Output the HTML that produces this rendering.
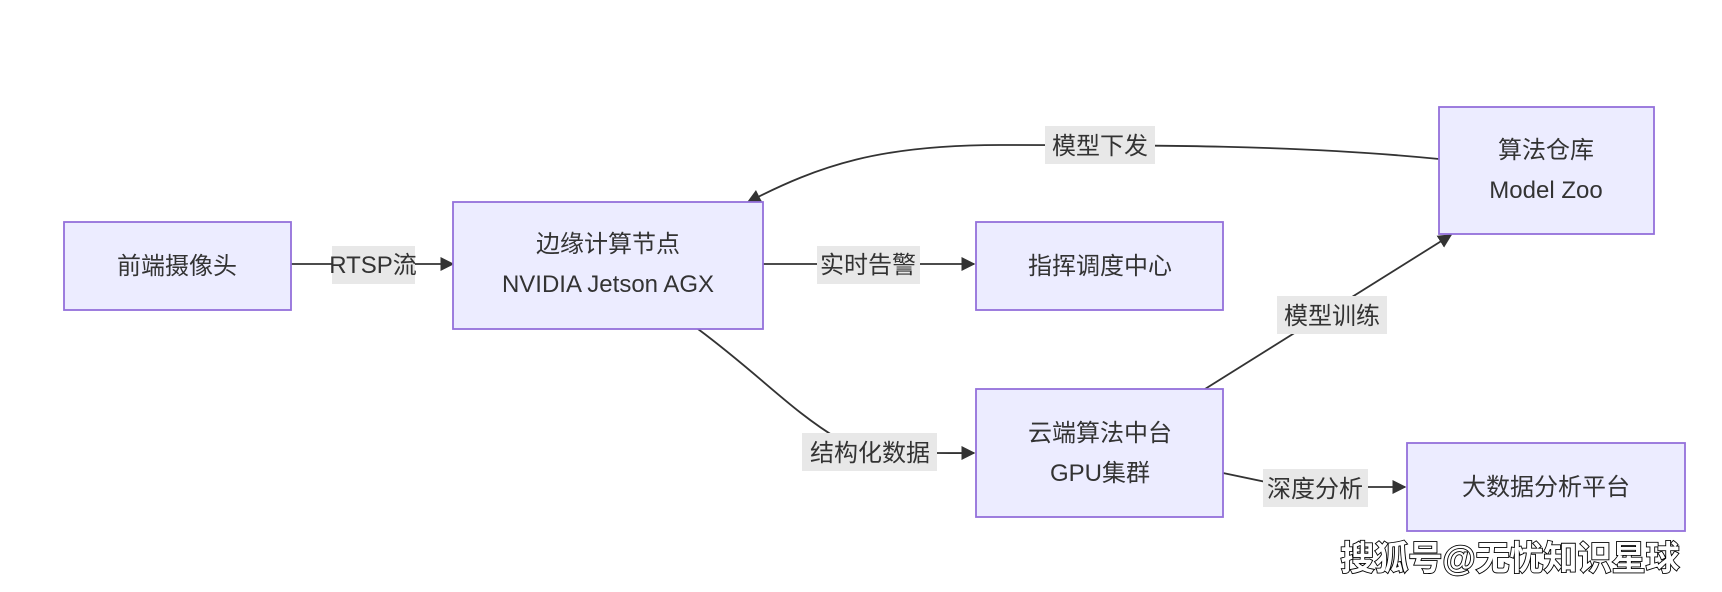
<!DOCTYPE html>
<html><head><meta charset="utf-8"><style>
html,body{margin:0;padding:0;background:#fff;}
svg{display:block;}
text{font-family:"Liberation Sans","Noto Sans CJK SC",sans-serif;fill:#333;}
</style></head><body>
<svg width="1722" height="592" viewBox="0 0 1722 592" xmlns="http://www.w3.org/2000/svg">
<defs>
<marker id="a" viewBox="0 0 10 10" refX="9" refY="5" markerWidth="14" markerHeight="14" markerUnits="userSpaceOnUse" orient="auto">
<path d="M0,0 L10,5 L0,10 z" fill="#333"/></marker>
</defs>
<g stroke="#333" stroke-width="1.8" fill="none" marker-end="url(#a)">
<path d="M291,264 L453,264"/>
<path d="M763,264 L974,264"/>
<path d="M1439,159 C1300,145 1150,145 1000,145 C880,145 820,165 748,202"/>
<path d="M698,329 C760,375 790,410 840,440 C870,455 930,453 974,453"/>
<path d="M1205,389 L1451,235"/>
<path d="M1223,473 L1290,487 L1405,487"/>
</g>
<g fill="#e8e8e8">
<rect x="332" y="246" width="83" height="38"/>
<rect x="817" y="246" width="103" height="38"/>
<rect x="1045" y="126" width="110" height="38"/>
<rect x="802" y="433" width="135" height="38"/>
<rect x="1277" y="296" width="110" height="38"/>
<rect x="1263" y="469" width="105" height="38"/>
</g>
<g font-size="24" text-anchor="middle">
<text x="373" y="273">RTSP流</text>
<text x="868" y="273">实时告警</text>
<text x="1100" y="154">模型下发</text>
<text x="870" y="461">结构化数据</text>
<text x="1332" y="324">模型训练</text>
<text x="1315" y="497">深度分析</text>
</g>
<g fill="#ececff" stroke="#9370db" stroke-width="1.8">
<rect x="64" y="222" width="227" height="88"/>
<rect x="453" y="202" width="310" height="127"/>
<rect x="976" y="222" width="247" height="88"/>
<rect x="1439" y="107" width="215" height="127"/>
<rect x="976" y="389" width="247" height="128"/>
<rect x="1407" y="443" width="278" height="88"/>
</g>
<g font-size="24" text-anchor="middle">
<text x="177" y="274">前端摄像头</text>
<text x="608" y="252">边缘计算节点</text>
<text x="608" y="292">NVIDIA Jetson AGX</text>
<text x="1100" y="274">指挥调度中心</text>
<text x="1546" y="158">算法仓库</text>
<text x="1546" y="198">Model Zoo</text>
<text x="1100" y="441">云端算法中台</text>
<text x="1100" y="481">GPU集群</text>
<text x="1546" y="495">大数据分析平台</text>
</g>
<text x="1510" y="570" font-size="34" font-weight="bold" text-anchor="middle" style="fill:#fff;stroke:#000;stroke-width:1.8;paint-order:stroke">搜狐号@无忧知识星球</text>
</svg>
</body></html>
